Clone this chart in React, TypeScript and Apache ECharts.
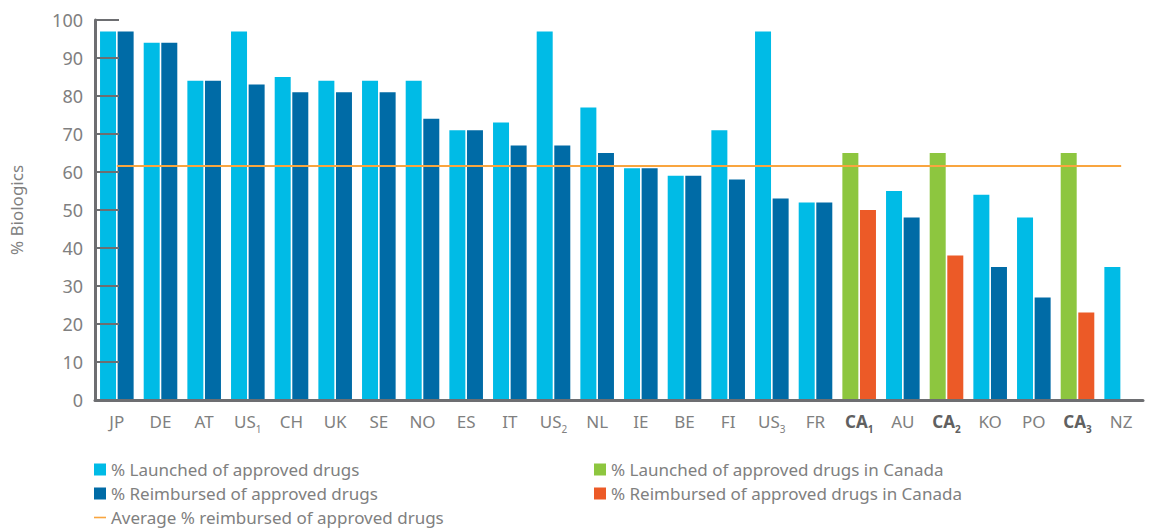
import React, { useEffect, useRef } from "react";
import * as echarts from "echarts";

// Country codes; a trailing digit is drawn as a subscript.
const countries = [
  "JP", "DE", "AT", "US1", "CH", "UK", "SE", "NO", "ES", "IT", "US2", "NL",
  "IE", "BE", "FI", "US3", "FR", "CA1", "AU", "CA2", "KO", "PO", "CA3", "NZ",
];

// % launched of approved drugs (per country)
const launched = [
  97, 94, 84, 97, 85, 84, 84, 84, 71, 73, 97, 77,
  61, 59, 71, 97, 52, 65, 55, 65, 54, 48, 65, 35,
];

// % reimbursed of approved drugs (NZ has no value)
const reimbursed: (number | null)[] = [
  97, 94, 84, 83, 81, 81, 81, 74, 71, 67, 67, 65,
  61, 59, 58, 53, 52, 50, 48, 38, 35, 27, 23, null,
];

const averageReimbursed = 61.6;

const yTicks = { min: 0, max: 100, interval: 10 };

const NAME_LAUNCHED = "% Launched of approved drugs";
const NAME_REIMBURSED = "% Reimbursed of approved drugs";
const NAME_AVERAGE = "Average % reimbursed of approved drugs";
const NAME_LAUNCHED_CA = "% Launched of approved drugs in Canada";
const NAME_REIMBURSED_CA = "% Reimbursed of approved drugs in Canada";

const COLORS = {
  launched: "#00bbe6",
  reimbursed: "#006ba6",
  launchedCA: "#8dc63f",
  reimbursedCA: "#ec5a27",
  average: "#f9a53f",
  axis: "#6d6e71",
  text: "#808080",
  textBold: "#606060",
};

const FONT = "'Noto Sans', sans-serif";

const isCanada = (c: string) => c.startsWith("CA");

export default function App() {
  const ref = useRef<HTMLDivElement>(null);

  useEffect(() => {
    document.body.style.margin = "0";
    if (!ref.current) return;
    const chart = echarts.init(ref.current, undefined, { renderer: "svg" });

    const pick = (vals: (number | null)[], canada: boolean) =>
      vals.map((v, i) =>
        isCanada(countries[i]) === canada && v != null ? v : "-"
      );

    const barBase = {
      type: "bar" as const,
      barWidth: 16,
      barGap: "10%",
      z: 2,
    };

    const legendBase = {
      orient: "vertical" as const,
      top: 456,
      height: 80,
      itemWidth: 12,
      itemHeight: 12,
      itemGap: 7,
      selectedMode: false,
      textStyle: { fontSize: 17, color: COLORS.text, fontFamily: FONT },
    };

    chart.setOption({
      animation: false,
      grid: { left: 95, right: 7, top: 20, bottom: 129, containLabel: false },
      legend: [
        {
          ...legendBase,
          left: 89,
          data: [
            { name: NAME_LAUNCHED, icon: "rect" },
            { name: NAME_REIMBURSED, icon: "rect" },
            { name: NAME_AVERAGE, icon: "path://M0,0H12V1.6H0Z" },
          ],
        },
        {
          ...legendBase,
          left: 589,
          data: [
            { name: NAME_LAUNCHED_CA, icon: "rect" },
            { name: NAME_REIMBURSED_CA, icon: "rect" },
          ],
        },
      ],
      xAxis: {
        type: "category",
        data: countries,
        boundaryGap: true,
        z: 3,
        axisLine: { lineStyle: { color: COLORS.axis, width: 3 } },
        axisTick: {
          inside: true,
          length: 6,
          lineStyle: { color: COLORS.axis, width: 2 },
        },
        axisLabel: {
          margin: 7,
          interval: 0,
          formatter: (v: string) => {
            const m = v.match(/^([A-Z]+)(\d)$/);
            if (!m) return `{n|${v}}`;
            const bold = isCanada(v);
            return `{${bold ? "b" : "n"}|${m[1]}}{${bold ? "bs" : "s"}|${m[2]}}`;
          },
          rich: {
            n: { fontSize: 17, color: COLORS.text, fontFamily: FONT, lineHeight: 28 },
            s: { fontSize: 10, color: COLORS.text, fontFamily: FONT, padding: [16, 0, 0, 0] },
            b: { fontSize: 17, color: COLORS.textBold, fontFamily: FONT, fontWeight: "bold", lineHeight: 28 },
            bs: { fontSize: 10, color: COLORS.textBold, fontFamily: FONT, fontWeight: "bold", padding: [16, 0, 0, 0] },
          },
        },
      },
      yAxis: {
        type: "value",
        min: yTicks.min,
        max: yTicks.max,
        interval: yTicks.interval,
        z: 3,
        name: "% Biologics",
        nameLocation: "middle",
        nameGap: 70,
        nameTextStyle: { fontSize: 17, color: COLORS.text, fontFamily: FONT },
        axisLine: { show: true, lineStyle: { color: COLORS.axis, width: 3 } },
        axisTick: {
          show: true,
          inside: true,
          length: 24,
          lineStyle: { color: COLORS.axis, width: 2 },
        },
        splitLine: { show: false },
        axisLabel: {
          margin: 12,
          fontSize: 18,
          color: COLORS.text,
          fontFamily: FONT,
        },
      },
      series: [
        {
          ...barBase,
          name: NAME_LAUNCHED,
          stack: "launched",
          itemStyle: { color: COLORS.launched },
          data: pick(launched, false),
        },
        {
          ...barBase,
          name: NAME_REIMBURSED,
          stack: "reimbursed",
          itemStyle: { color: COLORS.reimbursed },
          data: pick(reimbursed, false),
        },
        {
          ...barBase,
          name: NAME_LAUNCHED_CA,
          stack: "launched",
          itemStyle: { color: COLORS.launchedCA },
          data: pick(launched, true),
        },
        {
          ...barBase,
          name: NAME_REIMBURSED_CA,
          stack: "reimbursed",
          itemStyle: { color: COLORS.reimbursedCA },
          data: pick(reimbursed, true),
        },
        {
          type: "line",
          name: NAME_AVERAGE,
          z: 1,
          data: [],
          itemStyle: { color: COLORS.average },
          lineStyle: { color: COLORS.average },
          markLine: {
            silent: true,
            symbol: "none",
            label: { show: false },
            lineStyle: { color: COLORS.average, width: 2, type: "solid" },
            data: [
              [
                { coord: [0, averageReimbursed] },
                { coord: [countries.length - 1, averageReimbursed] },
              ],
            ],
          },
        },
      ],
    });

    return () => chart.dispose();
  }, []);

  return <div ref={ref} style={{ width: 1150, height: 529 }} />;
}
